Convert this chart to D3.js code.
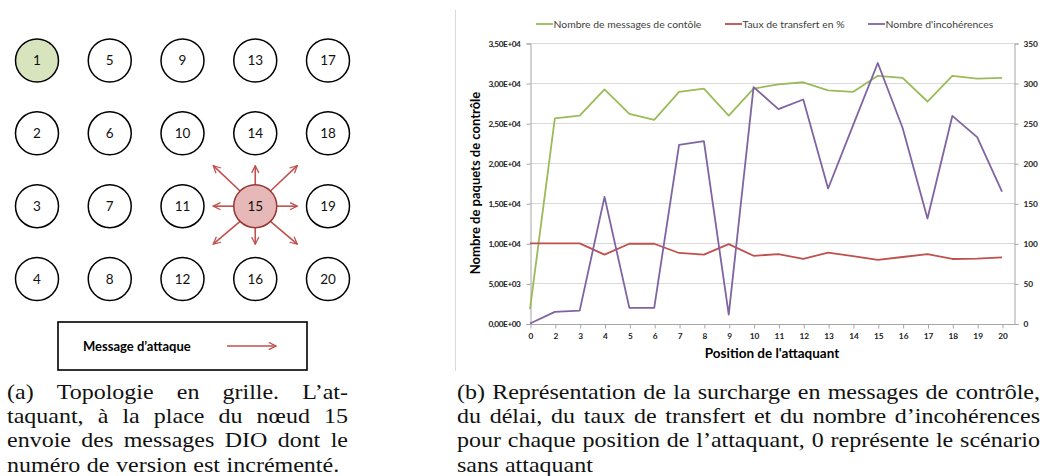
<!DOCTYPE html>
<html>
<head>
<meta charset="utf-8">
<script src="https://cdn.jsdelivr.net/npm/d3@7"></script>
<style>
  body { margin: 0; background: #fff; }
  svg { display: block; }
  .cap { font-family: "Liberation Serif", serif; font-size: 20px; fill: #111; }
  .xl { font-family: Lato, "Open Sans", sans-serif; }
</style>
</head>
<body>
<svg id="fig" width="1042" height="476"></svg>
<script>
// --- chart data (b) ---
const positions = [0, 2, 3, 4, 5, 6, 7, 8, 9, 10, 11, 12, 13, 14, 15, 16, 17, 18, 19, 20]
const ctrlMessages = [1800, 25600, 25950, 29200, 26150, 25400, 28900, 29300, 25950, 29300,
  29850, 30100, 29100, 28900, 30900, 30650, 27700, 30900, 30550, 30650]
const transferRate = [100, 100, 100, 86, 99.5, 99.5, 88, 86, 99, 84.5,
  86.5, 80.5, 88.5, 84, 79.5, 83, 86.5, 80.5, 81, 82.5]
const incoherences = [0, 14.5, 16, 158, 19.5, 19.5, 223, 227.5, 11, 295,
  267.5, 279.5, 168.5, 247, 325, 244, 131, 259, 232.5, 164.5]
const leftTicks = [0, 5000, 10000, 15000, 20000, 25000, 30000, 35000]
const rightTicks = [0, 50, 100, 150, 200, 250, 300, 350]
const seriesNames = ['Nombre de messages de contôle', 'Taux de transfert en %', "Nombre d'incohérences"]

// --- topology data (a) ---
const gridNodes = d3.range(1, 21)
const rootNode = 1
const attackerNode = 15
const legendLabel = "Message d\u2019attaque"

const captionA = [
  "(a) Topologie en grille. L\u2019at-",
  "taquant, \u00e0 la place du n\u0153ud 15",
  "envoie des messages DIO dont le",
  "num\u00e9ro de version est incr\u00e9ment\u00e9."
]
const captionB = [
  "(b) Repr\u00e9sentation de la surcharge en messages de contr\u00f4le,",
  "du d\u00e9lai, du taux de transfert et du nombre d\u2019incoh\u00e9rences",
  "pour chaque position de l\u2019attaquant, 0 repr\u00e9sente le sc\u00e9nario",
  "sans attaquant"
]

const green = '#9bbb59', red = '#c0504d', purple = '#8064a2'
const svg = d3.select('#fig')

// ================= (a) grid topology =================
let gx = d3.scalePoint().domain(d3.range(5)).range([37, 328])
let gy = d3.scalePoint().domain(d3.range(4)).range([60.5, 279])
let r = 21.5
let nodePos = id => [gx(Math.floor((id - 1) / 4)), gy((id - 1) % 4)]

let defs = svg.append('defs')
defs.append('marker')
  .attr('id', 'head')
  .attr('viewBox', '0 0 10 10')
  .attr('refX', 9).attr('refY', 5)
  .attr('markerWidth', 9).attr('markerHeight', 9)
  .attr('markerUnits', 'userSpaceOnUse')
  .attr('orient', 'auto')
  .append('path')
  .attr('d', 'M1,1 L9,5 L1,9')
  .attr('fill', 'none')
  .attr('stroke', red)
  .attr('stroke-width', 1.4)

// attack arrows from node 15 in the 8 directions
let [ax, ay] = nodePos(attackerNode)
let dirs = []
for (let dx = -1; dx <= 1; dx++) {
  for (let dy = -1; dy <= 1; dy++) {
    if (dx || dy) dirs.push([dx, dy])
  }
}
svg.append('g').selectAll('line')
  .data(dirs)
  .enter()
  .append('line')
  .attr('x1', d => ax + d[0] * r / Math.hypot(d[0], d[1]))
  .attr('y1', d => ay + d[1] * r / Math.hypot(d[0], d[1]))
  .attr('x2', d => ax + d[0] * 42)
  .attr('y2', d => ay + d[1] * (d[1] < 0 ? 40.5 : 38))
  .attr('stroke', red)
  .attr('stroke-width', 1.6)
  .attr('marker-end', 'url(#head)')

let nodes = svg.append('g').selectAll('g')
  .data(gridNodes)
  .enter()
  .append('g')
  .attr('transform', d => `translate(${nodePos(d)})`)

nodes.append('circle')
  .attr('r', r)
  .attr('fill', d => d === rootNode ? '#d7e4bd' : d === attackerNode ? '#e6b9b8' : '#fff')
  .attr('stroke', d => d === attackerNode ? '#953735' : '#000')
  .attr('stroke-width', 1.5)

nodes.append('text')
  .attr('class', 'xl')
  .attr('text-anchor', 'middle')
  .attr('dy', '0.35em')
  .attr('font-size', 13.5)
  .attr('fill', '#111')
  .text(d => d)

// legend box
svg.append('rect')
  .attr('x', 58).attr('y', 322)
  .attr('width', 249).attr('height', 48)
  .attr('fill', '#fff')
  .attr('stroke', '#000')
  .attr('stroke-width', 1.6)
svg.append('text')
  .attr('class', 'xl')
  .attr('x', 83).attr('y', 346)
  .attr('dy', '0.35em')
  .attr('font-size', 13)
  .attr('font-weight', 'bold')
  .text(legendLabel)
svg.append('line')
  .attr('x1', 227).attr('x2', 276)
  .attr('y1', 346).attr('y2', 346)
  .attr('stroke', red)
  .attr('stroke-width', 1.6)
  .attr('marker-end', 'url(#head)')

// ================= (b) line chart =================
let x = d3.scalePoint().domain(positions).range([530, 1002])
let yL = d3.scaleLinear().domain([0, 35000]).range([323.5, 43])
let yR = d3.scaleLinear().domain([0, 350]).range([323.5, 43])
let plotRight = 1014.5

let sci = v => {
  if (v === 0) return '0,00E+00'
  let e = Math.floor(Math.log10(v))
  return (v / Math.pow(10, e)).toFixed(2).replace('.', ',') + 'E+' + String(e).padStart(2, '0')
}

// chart frame (only left edge visible)
svg.append('line')
  .attr('x1', 455.5).attr('x2', 455.5)
  .attr('y1', 10).attr('y2', 371)
  .attr('stroke', '#d9d9d9')

// gridlines
svg.append('g').selectAll('line')
  .data(leftTicks.slice(1))
  .enter()
  .append('line')
  .attr('x1', 530).attr('x2', plotRight)
  .attr('y1', d => Math.round(yL(d)) + 0.5)
  .attr('y2', d => Math.round(yL(d)) + 0.5)
  .attr('stroke', '#d9d9d9')

let styleTicks = sel => sel.selectAll('text')
  .attr('class', 'xl')
  .attr('font-size', 8.3)
  .attr('font-weight', 'bold')
  .attr('fill', '#222')

// left axis
let leftAxis = svg.append('g')
  .attr('transform', 'translate(530.5,0.5)')
  .call(d3.axisLeft(yL).tickValues(leftTicks).tickFormat(sci).tickSize(4).tickPadding(6))
styleTicks(leftAxis)
leftAxis.selectAll('text').attr('letter-spacing', -0.45)

// right axis
let rightAxis = svg.append('g')
  .attr('transform', `translate(${plotRight},0.5)`)
  .call(d3.axisRight(yR).tickValues(rightTicks).tickSize(4).tickPadding(5))
styleTicks(rightAxis)

// bottom axis
let bottomAxis = svg.append('g')
  .attr('transform', `translate(0.5,${Math.round(yL(0)) + 0.5})`)
  .call(d3.axisBottom(x).tickSize(4).tickPadding(5))
bottomAxis.select('.domain').attr('d', `M530,0H${plotRight}`)
styleTicks(bottomAxis)

svg.selectAll('.domain, .tick line').attr('stroke', '#a6a6a6')

// series
let series = [
  { values: ctrlMessages, scale: yL, color: green },
  { values: transferRate, scale: yR, color: red },
  { values: incoherences, scale: yR, color: purple }
]
series.forEach(s => {
  svg.append('path')
    .datum(s.values)
    .attr('fill', 'none')
    .attr('stroke', s.color)
    .attr('stroke-width', 1.8)
    .attr('stroke-linejoin', 'round')
    .attr('d', d3.line().x((d, i) => x(positions[i])).y(d => s.scale(d)))
})

// legend
let legendX = [536, 725, 868]
let legend = svg.append('g').selectAll('g')
  .data(seriesNames)
  .enter()
  .append('g')
  .attr('transform', (d, i) => `translate(${legendX[i]},24)`)
legend.append('line')
  .attr('x1', 0).attr('x2', 17)
  .attr('stroke', (d, i) => series[i].color)
  .attr('stroke-width', 1.8)
legend.append('text')
  .attr('class', 'xl')
  .attr('x', 17.5)
  .attr('dy', '0.35em')
  .attr('font-size', 10.4)
  .attr('fill', '#404040')
  .text(d => d)

// axis titles
svg.append('text')
  .attr('class', 'xl')
  .attr('transform', 'translate(475,183) rotate(-90)')
  .attr('text-anchor', 'middle')
  .attr('dy', '0.35em')
  .attr('font-size', 13)
  .attr('font-weight', 'bold')
  .text('Nombre de paquets de contr\u00f4le')
svg.append('text')
  .attr('class', 'xl')
  .attr('x', 772).attr('y', 353)
  .attr('text-anchor', 'middle')
  .attr('dy', '0.35em')
  .attr('font-size', 13.5)
  .attr('font-weight', 'bold')
  .text("Position de l'attaquant")

// ================= captions (justified like LaTeX) =================
let stretch = 1.2
let paragraph = (lines, x0, x1, y0) => {
  lines.forEach((line, i) => {
    let g = svg.append('g')
      .attr('transform', `translate(${x0},${y0 + i * 24.4}) scale(${stretch},1)`)
    let words = line.split(' ')
    let texts = words.map(w => g.append('text').attr('class', 'cap').text(w))
    let widths = texts.map(t => t.node().getComputedTextLength())
    let last = i === lines.length - 1
    let gap = last ? 5.5 : ((x1 - x0) / stretch - d3.sum(widths)) / (words.length - 1)
    let pos = 0
    texts.forEach((t, j) => {
      t.attr('x', pos)
      pos += widths[j] + gap
    })
  })
}
paragraph(captionA, 7, 348, 398.5)
paragraph(captionB, 457, 1040, 398.5)
</script>
</body>
</html>
